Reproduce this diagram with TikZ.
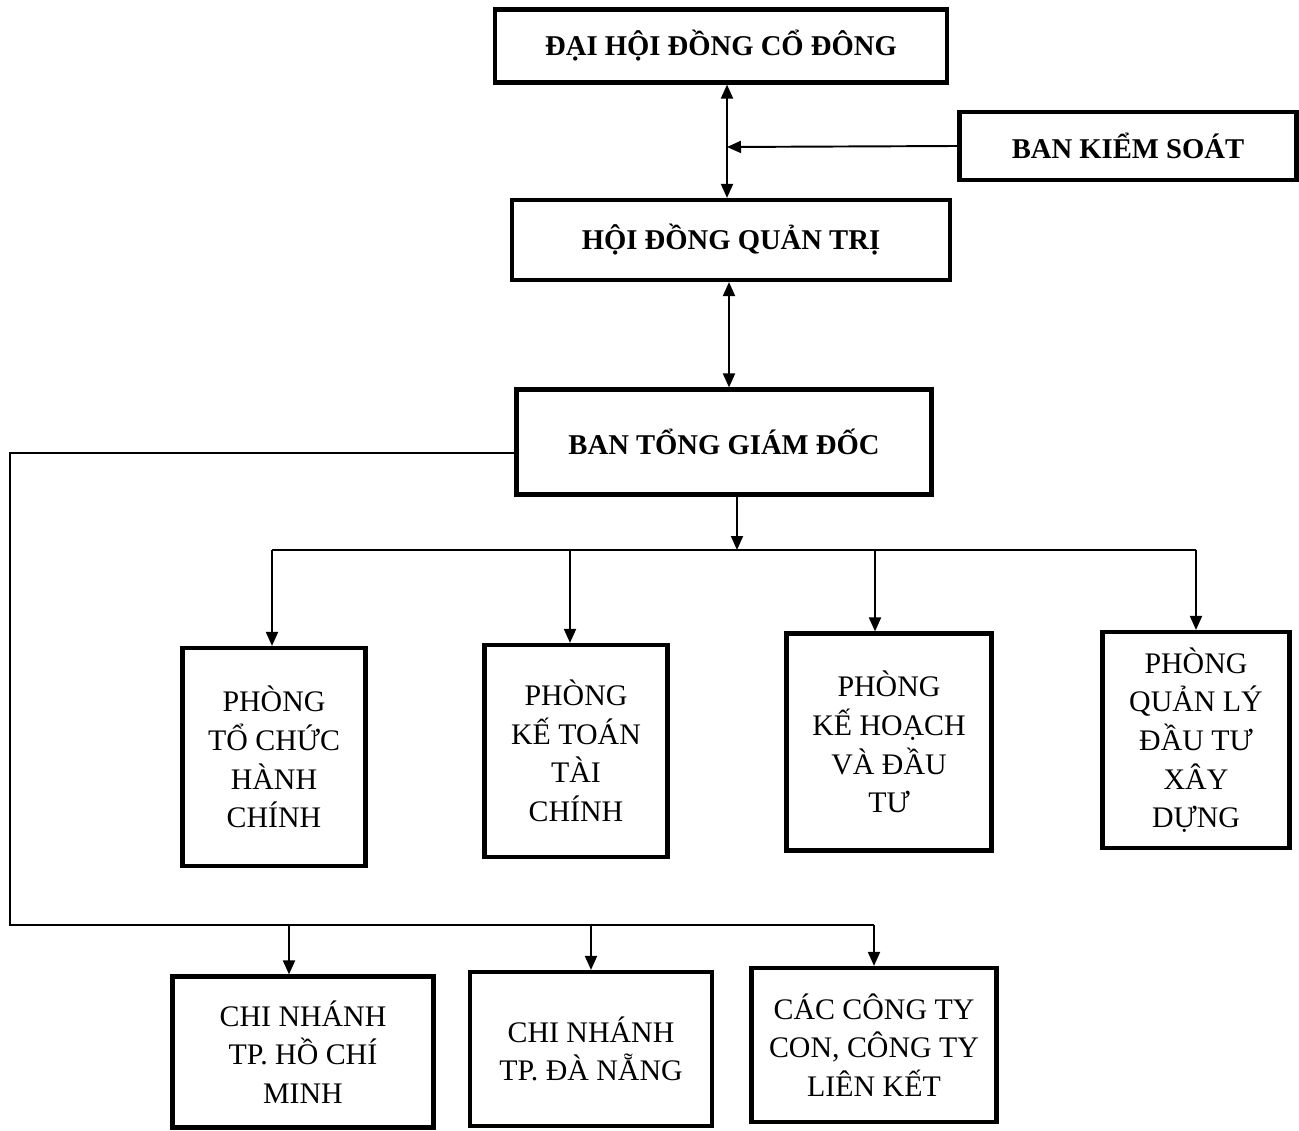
\documentclass[tikz,border=0pt]{standalone}
\usepackage{fontspec}
\setmainfont{Liberation Serif}
\usetikzlibrary{arrows.meta}

\begin{document}
\begin{tikzpicture} [x=0.02cm, y=-0.02cm,
                    >={Triangle[length=0.28cm,width=0.24cm]},
                    duong/.style={line width=1.1pt},
                    khoi/.style={draw,line width=2.4pt,inner sep=0pt,align=center},
                    tren/.style={khoi,font=\fontsize{16.3}{20}\selectfont\bfseries},
                    duoi/.style={khoi,font=\fontsize{17}{22}\selectfont}]

\useasboundingbox (0,0) rectangle (1299,1131);

\node[tren,minimum width=9.04cm,minimum height=1.46cm] (dh) at (721,46) {ĐẠI HỘI ĐỒNG CỔ ĐÔNG};
\node[tren,minimum width=6.74cm,minimum height=1.36cm] (bks) at (1128,146) {BAN KIỂM SOÁT};
\node[tren,minimum width=8.76cm,minimum height=1.6cm] (hdqt) at (731,240) {HỘI ĐỒNG QUẢN TRỊ};
\node[tren,minimum width=8.3cm,minimum height=2.1cm] (btgd) at (724,442) {BAN TỔNG GIÁM ĐỐC};

\node[duoi,minimum width=3.66cm,minimum height=4.36cm] (p1) at (274,757) {PHÒNG\\TỔ CHỨC\\HÀNH\\CHÍNH};
\node[duoi,minimum width=3.66cm,minimum height=4.24cm] (p2) at (576,751) {PHÒNG\\KẾ TOÁN\\TÀI\\CHÍNH};
\node[duoi,minimum width=4.1cm,minimum height=4.34cm] (p3) at (889,742) {PHÒNG\\KẾ HOẠCH\\VÀ ĐẦU\\TƯ};
\node[duoi,minimum width=3.74cm,minimum height=4.32cm] (p4) at (1196,740) {PHÒNG\\QUẢN LÝ\\ĐẦU TƯ\\XÂY\\DỰNG};

\node[duoi,minimum width=5.22cm,minimum height=3.02cm] (c1) at (303,1052) {CHI NHÁNH\\TP. HỒ CHÍ\\MINH};
\node[duoi,minimum width=4.84cm,minimum height=3.08cm] (c2) at (591,1049) {CHI NHÁNH\\TP. ĐÀ NẴNG};
\node[duoi,minimum width=4.9cm,minimum height=3.08cm] (c3) at (874,1045) {CÁC CÔNG TY\\CON, CÔNG TY\\LIÊN KẾT};

% truc giua
\coordinate (a1) at (727,147);
\coordinate (a2) at (729,0);
\draw[duong,<->] (a1 |- dh.south) -- (a1 |- hdqt.north);
\draw[duong,->] (bks.west) -- (a1);
\draw[duong,<->] (a2 |- hdqt.south) -- (a2 |- btgd.north);

% cac phong
\coordinate (bus) at (737,550);
\draw[duong,->] (bus |- btgd.south) -- (bus);
\draw[duong] ([xshift=-0.04cm]p1.north |- bus) -- (p4 |- bus);
\foreach \p/\dx in {p1/-0.04,p2/-0.12,p3/-0.28,p4/0}
    \draw[duong,->] ([xshift=\dx cm]\p.north |- bus) -- ([xshift=\dx cm]\p.north);

% chi nhanh, cong ty
\coordinate (goc) at (10,453);
\coordinate (bus2) at (10,925);
\draw[duong] (btgd.west |- goc) -- (goc) -- (bus2) -- (c3 |- bus2);
\foreach \c/\dx in {c1/-0.28,c2/0,c3/0}
    \draw[duong,->] ([xshift=\dx cm]\c.north |- bus2) -- ([xshift=\dx cm]\c.north);
\end{tikzpicture}
\end{document}
